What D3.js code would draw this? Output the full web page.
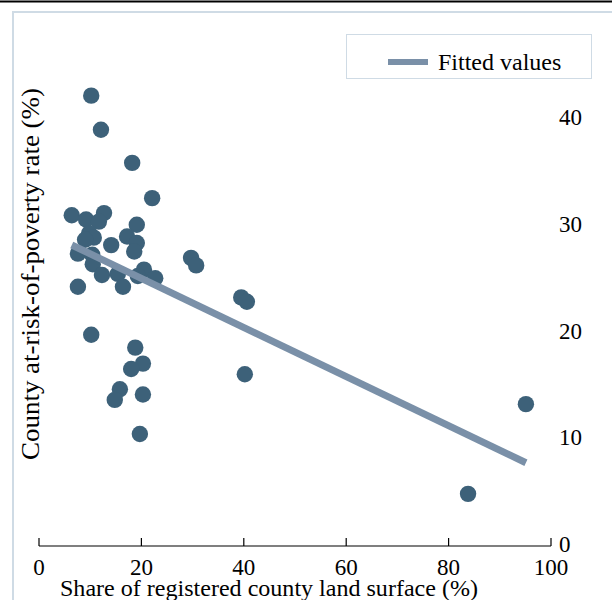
<!DOCTYPE html>
<html lang="en">
<head>
<meta charset="UTF-8">
<title>Poverty rate vs registered land surface</title>
<script src="https://d3js.org/d3.v7.min.js"></script>
<style>
    body { margin: 0; padding: 0; background: #ffffff; }
    svg { display: block; font-family: "Liberation Serif", "Times New Roman", serif; }
</style>
</head>
<body>
<svg id="chart" width="612" height="600"></svg>
<script>
// share of registered county land surface (%)
const shareLand = [
    10.2, 12.1, 18.2, 22.1, 6.4, 9.2, 12.7, 11.7, 19.1, 9.8,
    10.7, 9.0, 17.2, 19.1, 18.6, 14.1, 7.6, 10.4, 10.5, 12.3,
    15.4, 20.5, 22.7, 19.3, 16.4, 7.6, 29.7, 30.7, 39.5, 40.6,
    10.2, 18.8, 20.3, 18.0, 40.2, 15.8, 14.8, 20.3, 19.7, 95.1,
    83.8
];
// county at-risk-of-poverty rate (%)
const povertyRate = [
    42.0, 38.8, 35.7, 32.4, 30.8, 30.4, 31.0, 30.2, 29.9, 29.1,
    28.7, 28.5, 28.8, 28.2, 27.4, 28.0, 27.2, 27.1, 26.2, 25.2,
    25.3, 25.7, 24.9, 25.1, 24.1, 24.1, 26.8, 26.1, 23.1, 22.7,
    19.6, 18.4, 16.9, 16.4, 15.9, 14.5, 13.5, 14.0, 10.3, 13.1,
    4.7
];
const xTicks = [0, 20, 40, 60, 80, 100];
const yTicks = [0, 10, 20, 30, 40];

const svg = d3.select("#chart");

// Stata-like outer frame
svg.append("line")
    .attr("x1", 0).attr("x2", 612)
    .attr("y1", 1.5).attr("y2", 1.5)
    .attr("stroke", "#000").attr("stroke-width", 2);
svg.append("rect")
    .attr("x", 13).attr("y", 12)
    .attr("width", 620).attr("height", 620)
    .attr("fill", "none")
    .attr("stroke", "#cfdbe5").attr("stroke-width", 2);

const x = d3.scaleLinear().domain([0, 100]).range([39, 551]);
const y = d3.scaleLinear().domain([0, 40]).range([544, 117]);

// x axis
const xAxis = svg.append("g").attr("transform", "translate(0,546)");
xAxis.append("line")
    .attr("x1", x(0)).attr("x2", x(100))
    .attr("stroke", "#000").attr("stroke-width", 1.2);
xAxis.selectAll(".tick").data(xTicks).enter().append("line")
    .attr("x1", d => x(d)).attr("x2", d => x(d))
    .attr("y1", 0).attr("y2", -8)
    .attr("stroke", "#000").attr("stroke-width", 1.2);
xAxis.selectAll(".lbl").data(xTicks).enter().append("text")
    .attr("x", d => x(d)).attr("y", 29)
    .attr("text-anchor", "middle")
    .attr("font-size", 23)
    .text(d => d);
svg.append("text")
    .attr("x", 269).attr("y", 596)
    .attr("text-anchor", "middle")
    .attr("font-size", 23)
    .attr("textLength", 418)
    .attr("lengthAdjust", "spacingAndGlyphs")
    .text("Share of registered county land surface (%)");

// y axis labels on the right, no axis line
svg.selectAll(".ylbl").data(yTicks).enter().append("text")
    .attr("x", 559).attr("y", d => y(d))
    .attr("dy", "0.35em")
    .attr("font-size", 23)
    .text(d => d);
svg.append("text")
    .attr("transform", "translate(39,274) rotate(-90)")
    .attr("text-anchor", "middle")
    .attr("font-size", 25)
    .attr("textLength", 372)
    .attr("lengthAdjust", "spacingAndGlyphs")
    .text("County at-risk-of-poverty rate (%)");

// points
const pts = shareLand.map((v, i) => ({ x: v, y: povertyRate[i] }));
svg.append("g").selectAll("circle").data(pts).enter().append("circle")
    .attr("cx", d => x(d.x)).attr("cy", d => y(d.y))
    .attr("r", 8.2)
    .attr("fill", "#3d6179");

// OLS fitted line over the data range
const mx = d3.mean(pts, d => d.x), my = d3.mean(pts, d => d.y);
const slope = d3.sum(pts, d => (d.x - mx) * (d.y - my)) / d3.sum(pts, d => (d.x - mx) ** 2);
const icpt = my - slope * mx;
const [xmin, xmax] = d3.extent(pts, d => d.x);
svg.append("line")
    .attr("x1", x(xmin)).attr("y1", y(icpt + slope * xmin))
    .attr("x2", x(xmax)).attr("y2", y(icpt + slope * xmax))
    .attr("stroke", "#7a90a8").attr("stroke-width", 7);

// legend
const legend = svg.append("g");
legend.append("rect")
    .attr("x", 346.5).attr("y", 34.5)
    .attr("width", 245).attr("height", 44)
    .attr("fill", "#fff")
    .attr("stroke", "#cfdbe5").attr("stroke-width", 1);
legend.append("line")
    .attr("x1", 388).attr("x2", 428)
    .attr("y1", 62).attr("y2", 62)
    .attr("stroke", "#7a90a8").attr("stroke-width", 6);
legend.append("text")
    .attr("x", 438).attr("y", 70)
    .attr("font-size", 24)
    .text("Fitted values");
</script>
</body>
</html>
